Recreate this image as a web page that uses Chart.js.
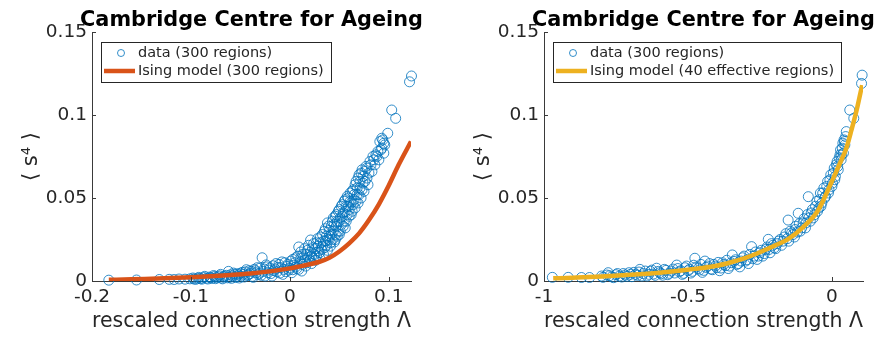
<!DOCTYPE html>
<html lang="en">
<head>
<meta charset="UTF-8" />
<title>Cambridge Centre for Ageing - fourth moment vs connection strength</title>
<script src="https://cdn.jsdelivr.net/npm/chart.js"></script>
<style>
  html, body { margin: 0; padding: 0; background: #fff; }
  body { width: 885px; height: 339px; position: relative; overflow: hidden; }
  canvas { position: absolute; top: 0; }
  #chartLeft { left: 0; }
  #chartRight { left: 443px; }
</style>
</head>
<body>
<canvas id="chartLeft" width="442" height="339"></canvas>
<canvas id="chartRight" width="442" height="339"></canvas>
<script>
  // ---- data ----
  const titleText = 'Cambridge Centre for Ageing';
  const xLabel = 'rescaled connection strength \u039B';
  const yLabel = '\u27E8 s\u2074 \u27E9';
  const dataLabel = 'data (300 regions)';
  const leftModelLabel = 'Ising model (300 regions)';
  const rightModelLabel = 'Ising model (40 effective regions)';

  const yTicks = [0, 0.05, 0.1, 0.15];
  const leftXTicks = [-0.2, -0.1, 0, 0.1];
  const rightXTicks = [-1, -0.5, 0];

  // left panel: measured points [lambda, <s^4>]
  const leftPoints = [
    [-0.183,0.0005],[-0.155,0.0006],[-0.132,0.0009],[-0.122,0.0010],[-0.117,0.0009],[-0.112,0.0012],
    [-0.106,0.0011],[-0.101,0.0013],[-0.097,0.0012],[-0.093,0.0016],
    [-0.090,0.0014],[-0.087,0.0021],[-0.084,0.0017],[-0.081,0.0024],[-0.079,0.0015],[-0.076,0.0027],
    [-0.074,0.0020],[-0.071,0.0031],[-0.069,0.0018],[-0.067,0.0025],[-0.064,0.0034],[-0.062,0.0058],
    [-0.061,0.0022],[-0.058,0.0030],[-0.056,0.0041],[-0.054,0.0026],[-0.052,0.0036],[-0.050,0.0047],
    [-0.049,0.0029],[-0.047,0.0040],[-0.045,0.0055],[-0.043,0.0033],[-0.041,0.0062],[-0.040,0.0045],
    [-0.038,0.0028],[-0.036,0.0070],[-0.034,0.0050],[-0.032,0.0038],[-0.030,0.0078],[-0.028,0.0140],
    [-0.027,0.0058],[-0.025,0.0030],[-0.023,0.0085],[-0.021,0.0066],[-0.019,0.0045],[-0.017,0.0092],
    [-0.015,0.0072],[-0.013,0.0055],[-0.011,0.0100],[-0.009,0.0080],[-0.007,0.0040],[-0.005,0.0110],
    [-0.003,0.0088],[-0.001,0.0066],[0.001,0.0120],[0.002,0.0050],[0.004,0.0095],
    [0.006,0.0140],[0.007,0.0075],[0.009,0.0205],[0.010,0.0110],[0.012,0.0060],[0.013,0.0160],
    [0.015,0.0125],[0.016,0.0090],[0.018,0.0185],[0.019,0.0140],[0.021,0.0247],[0.022,0.0105],
    [0.023,0.0200],[0.025,0.0160],[0.026,0.0125],[0.027,0.0230],[0.029,0.0180],[0.030,0.0140],
    [0.031,0.0265],[0.033,0.0210],[0.034,0.0160],[0.035,0.0300],[0.036,0.0240],[0.038,0.0185],
    [0.039,0.0330],[0.040,0.0270],[0.041,0.0210],[0.043,0.0360],[0.044,0.0300],[0.045,0.0235],
    [0.046,0.0390],[0.047,0.0330],[0.048,0.0270],[0.049,0.0420],
    [0.050,0.0360],[0.051,0.0300],[0.052,0.0450],[0.053,0.0390],[0.054,0.0330],[0.055,0.0480],
    [0.056,0.0420],[0.057,0.0360],[0.058,0.0510],[0.059,0.0450],[0.060,0.0390],[0.061,0.0530],
    [0.062,0.0470],[0.063,0.0420],[0.064,0.0550],[0.065,0.0490],[0.066,0.0440],[0.067,0.0600],
    [0.068,0.0520],[0.069,0.0470],[0.070,0.0640],[0.071,0.0560],[0.072,0.0500],[0.073,0.0670],
    [0.074,0.0590],[0.075,0.0540],[0.077,0.0690],[0.078,0.0620],[0.079,0.0580],[0.081,0.0720],
    [0.083,0.0660],[0.084,0.0750],[0.086,0.0700],[0.087,0.0760],[0.089,0.0780],[0.090,0.0730],
    [0.091,0.0840],[0.093,0.0800],[0.094,0.0850],[0.095,0.0770],[0.096,0.0820],[0.099,0.0890],
    [0.103,0.1030],[0.107,0.0980],[0.121,0.1200],[0.123,0.1235],
    [-0.098,0.0018],[-0.095,0.0010],[-0.092,0.0022],[-0.089,0.0011],[-0.086,0.0028],[-0.083,0.0012],
    [-0.080,0.0020],[-0.077,0.0033],[-0.075,0.0014],[-0.073,0.0026],[-0.070,0.0040],[-0.068,0.0013],
    [-0.066,0.0030],[-0.063,0.0019],[-0.060,0.0037],[-0.059,0.0016],[-0.057,0.0048],[-0.055,0.0021],
    [-0.053,0.0043],[-0.051,0.0018],
    [-0.048,0.0052],[-0.046,0.0024],[-0.044,0.0068],[-0.042,0.0038],[-0.039,0.0058],[-0.037,0.0022],
    [-0.035,0.0062],[-0.033,0.0080],[-0.031,0.0046],[-0.029,0.0034],[-0.026,0.0072],[-0.024,0.0097],
    [-0.022,0.0050],[-0.020,0.0078],[-0.018,0.0030],[-0.016,0.0062],[-0.014,0.0105],[-0.012,0.0082],
    [-0.010,0.0048],[-0.008,0.0115],[-0.006,0.0070],[-0.004,0.0056],[-0.002,0.0100],[0.000,0.0078],
    [0.003,0.0130],[0.003,0.0068],
    [0.005,0.0110],[0.006,0.0085],[0.008,0.0150],[0.009,0.0070],[0.011,0.0135],[0.011,0.0175],
    [0.013,0.0100],[0.014,0.0145],[0.015,0.0195],[0.017,0.0110],[0.017,0.0160],[0.019,0.0215],
    [0.020,0.0125],[0.021,0.0175],[0.022,0.0150],[0.024,0.0225],[0.024,0.0135],[0.026,0.0195],
    [0.027,0.0150],[0.028,0.0255],[0.029,0.0210],[0.030,0.0170],[0.031,0.0230],[0.032,0.0190],
    [0.033,0.0280],[0.034,0.0240],[0.035,0.0200],[0.036,0.0315],[0.037,0.0270],[0.037,0.0215],
    [0.038,0.0350],[0.039,0.0250],[0.040,0.0305],[0.041,0.0230],[0.042,0.0330],[0.042,0.0280],
    [0.043,0.0250],[0.044,0.0380],[0.045,0.0340],[0.046,0.0280],[0.046,0.0250],[0.047,0.0400],
    [0.048,0.0360],[0.049,0.0300],
    [0.050,0.0430],[0.050,0.0280],[0.051,0.0380],[0.052,0.0340],[0.053,0.0460],[0.054,0.0410],
    [0.055,0.0360],[0.056,0.0490],[0.056,0.0320],[0.057,0.0450],[0.058,0.0400],[0.059,0.0500],
    [0.060,0.0430],[0.061,0.0480],[0.062,0.0400],[0.063,0.0540],[0.064,0.0460],[0.065,0.0520],
    [0.066,0.0580],[0.067,0.0480],[0.068,0.0560],[0.069,0.0620],[0.070,0.0520],[0.071,0.0600],
    [0.072,0.0650],[0.073,0.0550],[0.074,0.0630],[0.076,0.0600],[0.076,0.0660],[0.078,0.0680],
    [0.080,0.0650],[0.082,0.0700],[0.085,0.0730],[0.088,0.0750],[0.092,0.0790],[0.093,0.0860],
    [0.095,0.0830]
  ];
  const leftModelX = [-0.183,-0.16,-0.14,-0.12,-0.10,-0.08,-0.06,-0.04,-0.02,0,0.01,0.02,0.03,0.04,0.05,0.06,0.07,0.08,0.09,0.10,0.11,0.1225];
  const leftModelY = [0.0007,0.0010,0.0014,0.0018,0.0023,0.0029,0.0036,0.0045,0.0058,0.0076,0.0088,0.0101,0.0116,0.0140,0.0178,0.0227,0.0287,0.0367,0.0462,0.0575,0.0700,0.0840];

  // right panel: measured points [lambda, <s^4>]
  const rightPoints = [
    [-0.971,0.0022],[-0.916,0.0022],[-0.870,0.0021],[-0.842,0.0021],[-0.800,0.0030],[-0.782,0.0036],
    [-0.777,0.0050],[-0.765,0.0025],[-0.750,0.0038],[-0.738,0.0030],[-0.725,0.0045],[-0.712,0.0028],
    [-0.700,0.0040],[-0.688,0.0052],[-0.675,0.0034],[-0.667,0.0070],[-0.655,0.0045],[-0.642,0.0030],
    [-0.630,0.0058],[-0.620,0.0042],[-0.609,0.0077],[-0.598,0.0050],[-0.588,0.0035],[-0.576,0.0064],
    [-0.565,0.0046],[-0.552,0.0072],[-0.539,0.0096],[-0.530,0.0055],[-0.520,0.0040],[-0.510,0.0080],
    [-0.500,0.0062],[-0.490,0.0048],[-0.476,0.0137],[-0.470,0.0085],[-0.460,0.0066],[-0.450,0.0052],
    [-0.441,0.0120],[-0.432,0.0090],[-0.420,0.0072],[-0.410,0.0100],[-0.400,0.0080],[-0.390,0.0062],
    [-0.380,0.0110],[-0.370,0.0092],[-0.360,0.0075],[-0.346,0.0157],[-0.340,0.0118],[-0.330,0.0100],
    [-0.320,0.0085],[-0.310,0.0140],[-0.300,0.0120],[-0.290,0.0105],[-0.279,0.0207],[-0.270,0.0150],
    [-0.260,0.0130],[-0.250,0.0170],[-0.240,0.0150],[-0.230,0.0190],[-0.221,0.0251],[-0.215,0.0170],
    [-0.205,0.0215],[-0.195,0.0195],[-0.185,0.0240],[-0.175,0.0215],[-0.165,0.0265],[-0.152,0.0367],
    [-0.150,0.0240],[-0.140,0.0290],[-0.130,0.0265],[-0.125,0.0330],[-0.117,0.0408],[-0.110,0.0300],
    [-0.100,0.0350],[-0.092,0.0320],[-0.085,0.0400],[-0.082,0.0508],[-0.075,0.0360],[-0.068,0.0430],
    [-0.060,0.0400],[-0.052,0.0480],[-0.045,0.0440],[-0.040,0.0530],[-0.035,0.0470],[-0.028,0.0560],
    [-0.022,0.0510],[-0.015,0.0600],[-0.010,0.0550],[-0.004,0.0640],[0.002,0.0590],[0.008,0.0680],
    [0.012,0.0630],[0.018,0.0720],[0.022,0.0670],[0.028,0.0760],[0.032,0.0730],[0.036,0.0800],
    [0.040,0.0770],[0.042,0.0850],[0.045,0.0820],[0.048,0.0870],[0.062,0.1030],[0.076,0.0980],
    [0.103,0.1190],[0.105,0.1240],
    [-0.795,0.0022],[-0.772,0.0032],[-0.758,0.0020],[-0.745,0.0045],[-0.730,0.0024],[-0.718,0.0036],
    [-0.705,0.0050],[-0.695,0.0026],[-0.682,0.0040],[-0.670,0.0054],[-0.660,0.0030],[-0.648,0.0060],
    [-0.636,0.0040],[-0.625,0.0066],[-0.614,0.0034],[-0.603,0.0058],[-0.592,0.0044],[-0.582,0.0070],
    [-0.570,0.0038],[-0.558,0.0060],[-0.546,0.0048],[-0.535,0.0075],[-0.525,0.0062],[-0.515,0.0046],
    [-0.505,0.0090],
    [-0.495,0.0070],[-0.485,0.0058],[-0.480,0.0095],[-0.465,0.0075],[-0.455,0.0100],[-0.445,0.0064],
    [-0.437,0.0082],[-0.425,0.0105],[-0.415,0.0068],[-0.405,0.0090],[-0.395,0.0112],[-0.385,0.0078],
    [-0.375,0.0100],[-0.365,0.0125],[-0.355,0.0090],[-0.350,0.0110],[-0.335,0.0128],[-0.325,0.0105],
    [-0.315,0.0120],[-0.305,0.0150],[-0.295,0.0128],[-0.285,0.0160],[-0.275,0.0135],[-0.265,0.0175],
    [-0.255,0.0150],[-0.245,0.0185],[-0.235,0.0165],[-0.225,0.0205],[-0.218,0.0190],[-0.210,0.0225],
    [-0.200,0.0200],[-0.190,0.0225],[-0.180,0.0250],
    [-0.170,0.0240],[-0.160,0.0285],[-0.155,0.0255],[-0.145,0.0300],[-0.135,0.0280],[-0.128,0.0310],
    [-0.120,0.0295],[-0.113,0.0345],[-0.105,0.0320],[-0.097,0.0375],[-0.090,0.0350],[-0.080,0.0380],
    [-0.072,0.0410],[-0.065,0.0380],[-0.057,0.0450],[-0.050,0.0420],[-0.043,0.0490],[-0.038,0.0450],
    [-0.032,0.0530],[-0.025,0.0500],[-0.018,0.0570],[-0.012,0.0530],[-0.007,0.0610],[0.000,0.0570],
    [0.005,0.0650],[0.010,0.0610],[0.015,0.0700],[0.020,0.0690],[0.025,0.0740],[0.030,0.0790],
    [0.034,0.0760],[0.038,0.0830],[0.044,0.0840],[0.050,0.0900]
  ];
  const rightModelX = [-0.968,-0.9,-0.8,-0.7,-0.6,-0.5,-0.4,-0.35,-0.3,-0.25,-0.2,-0.15,-0.1,-0.05,0,0.03,0.05,0.068,0.086,0.105];
  const rightModelY = [0.0016,0.0020,0.0027,0.0037,0.0050,0.0068,0.0092,0.0113,0.0139,0.0173,0.0212,0.0255,0.0325,0.0420,0.0600,0.0717,0.0800,0.0910,0.1030,0.1180];

  // ---- styling ----
  const BLUE = '#0072BD';
  const RED = '#D95319';
  const YELLOW = '#EDB120';
  const AXIS = '#3a3a3a';
  const TEXT = '#262626';
  const FONT = "'DejaVu Sans', sans-serif";

  // MATLAB-ish title over the axes, inward ticks and boxed legend
  const matlabLook = {
    id: 'matlabLook',
    afterDraw(chart) {
      const { ctx, chartArea: a, scales: { x, y } } = chart;
      ctx.save();

      // title is wider than the axes, so draw it centred on them without squeezing
      ctx.fillStyle = '#000';
      ctx.font = 'bold 20.8px ' + FONT;
      ctx.textAlign = 'center';
      ctx.textBaseline = 'alphabetic';
      ctx.fillText(titleText, (a.left + a.right) / 2, 26);

      ctx.strokeStyle = AXIS;
      ctx.lineWidth = 1;
      ctx.beginPath();
      x.ticks.forEach(t => {
        const px = Math.round(x.getPixelForValue(t.value)) + 0.5;
        ctx.moveTo(px, a.bottom); ctx.lineTo(px, a.bottom - 4);
      });
      y.ticks.forEach(t => {
        const py = Math.round(y.getPixelForValue(t.value)) + 0.5;
        ctx.moveTo(a.left, py); ctx.lineTo(a.left + 4, py);
      });
      ctx.stroke();

      // legend
      const ds = chart.data.datasets;
      const pts = ds.find(d => d.legendKind === 'marker');
      const line = ds.find(d => d.legendKind === 'line');
      ctx.font = '14.5px ' + FONT;
      const tw = Math.max(ctx.measureText(pts.label).width, ctx.measureText(line.label).width);
      const L = a.left + 9, T = 42, W = 37 + tw + 7, H = 40;
      ctx.fillStyle = '#fff';
      ctx.fillRect(L, T, W, H);
      ctx.strokeStyle = TEXT;
      ctx.lineWidth = 1;
      ctx.strokeRect(Math.round(L) + 0.5, T + 0.5, Math.round(W), H);

      ctx.strokeStyle = BLUE;
      ctx.lineWidth = 0.8;
      ctx.beginPath();
      ctx.arc(L + 20, T + 11, 3.5, 0, Math.PI * 2);
      ctx.stroke();

      ctx.strokeStyle = line.borderColor;
      ctx.lineWidth = 4.5;
      ctx.beginPath();
      ctx.moveTo(L + 3, T + 29); ctx.lineTo(L + 34, T + 29);
      ctx.stroke();

      ctx.fillStyle = TEXT;
      ctx.textBaseline = 'middle';
      ctx.textAlign = 'left';
      ctx.fillText(pts.label, L + 37, T + 11);
      ctx.fillText(line.label, L + 37, T + 29);
      ctx.restore();
    }
  };

  function makeChart(id, cfg) {
    const ctx = document.getElementById(id).getContext('2d');
    return new Chart(ctx, {
      type: 'scatter',
      data: {
        datasets: [
          {
            label: cfg.modelLabel,
            legendKind: 'line',
            data: cfg.modelX.map((v, i) => ({ x: v, y: cfg.modelY[i] })),
            showLine: true,
            borderColor: cfg.lineColor,
            borderWidth: 4.5,
            pointRadius: 0,
            cubicInterpolationMode: 'monotone',
            order: 1
          },
          {
            label: dataLabel,
            legendKind: 'marker',
            data: cfg.points.map(p => ({ x: p[0], y: p[1] })),
            pointStyle: 'circle',
            pointRadius: 5,
            borderWidth: 0.8,
            borderColor: BLUE,
            backgroundColor: 'rgba(0,0,0,0)',
            clip: false,
            order: 2
          }
        ]
      },
      options: {
        responsive: false,
        animation: false,
        events: [],
        layout: { padding: { left: 0, right: cfg.padRight, top: 32, bottom: 0 } },
        plugins: {
          legend: { display: false },
          tooltip: { enabled: false },
          title: { display: false }
        },
        scales: {
          x: {
            type: 'linear',
            min: cfg.xMin,
            max: cfg.xMax,
            afterBuildTicks: s => { s.ticks = cfg.xTicks.map(v => ({ value: v })); },
            afterFit: s => { s.height = 58; },
            grid: { display: false, drawTicks: false },
            border: { display: true, color: AXIS, width: 1 },
            ticks: {
              color: TEXT, padding: 5, maxRotation: 0,
              font: { family: FONT, size: 18.5 },
              callback: v => String(v)
            },
            title: {
              display: true, text: xLabel, color: TEXT,
              font: { family: FONT, size: 20.9 },
              padding: { top: 0, bottom: 4.6 }
            }
          },
          y: {
            type: 'linear',
            min: 0,
            max: 0.15,
            afterBuildTicks: s => { s.ticks = yTicks.map(v => ({ value: v })); },
            afterFit: s => { s.width = cfg.yWidth; },
            grid: { display: false, drawTicks: false },
            border: { display: true, color: AXIS, width: 1 },
            ticks: {
              color: TEXT, padding: 5,
              font: { family: FONT, size: 18.5 },
              callback: v => String(v)
            },
            title: {
              display: true, text: yLabel, color: TEXT,
              font: { family: FONT, size: 21 },
              padding: { top: cfg.yTitlePad, bottom: 0 }
            }
          }
        }
      },
      plugins: [matlabLook]
    });
  }

  makeChart('chartLeft', {
    points: leftPoints, modelX: leftModelX, modelY: leftModelY,
    modelLabel: leftModelLabel, lineColor: RED,
    xMin: -0.2, xMax: 0.1225, xTicks: leftXTicks,
    yWidth: 92, padRight: 31, yTitlePad: 19
  });

  makeChart('chartRight', {
    points: rightPoints, modelX: rightModelX, modelY: rightModelY,
    modelLabel: rightModelLabel, lineColor: YELLOW,
    xMin: -1, xMax: 0.108, xTicks: rightXTicks,
    yWidth: 101, padRight: 22, yTitlePad: 28
  });
</script>
</body>
</html>
